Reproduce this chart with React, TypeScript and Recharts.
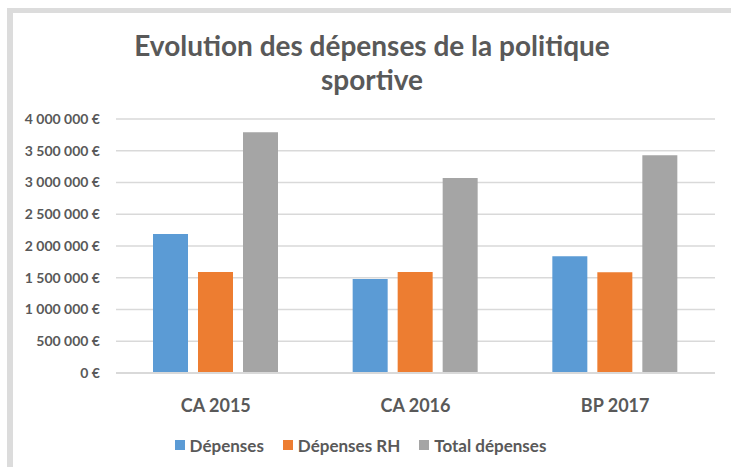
import { BarChart, Bar, XAxis, YAxis, CartesianGrid, Legend } from 'recharts';

const categories = ['CA 2015', 'CA 2016', 'BP 2017'];
const depenses = [2190000, 1480000, 1840000];
const depensesRH = [1590000, 1590000, 1585000];
const totalDepenses = [3790000, 3070000, 3430000];
const yTicks = [0, 500000, 1000000, 1500000, 2000000, 2500000, 3000000, 3500000, 4000000];

const SERIES = [
  { key: 'depenses', name: 'Dépenses', color: '#5B9BD5' },
  { key: 'depensesRH', name: 'Dépenses RH', color: '#ED7D31' },
  { key: 'total', name: 'Total dépenses', color: '#A5A5A5' },
];

const FONT = 'Lato, "Open Sans", sans-serif';
const TEXT = '#595959';

const chartData = categories.map((name, i) => ({
  name,
  depenses: depenses[i],
  depensesRH: depensesRH[i],
  total: totalDepenses[i],
}));

// 4000000 -> "4 000 000 €"
const formatEuro = (v: number) =>
  String(v).replace(/\B(?=(\d{3})+(?!\d))/g, ' ') + ' €';

function LegendBox() {
  return (
    <div
      style={{
        height: 44,
        display: 'flex',
        justifyContent: 'center',
        alignItems: 'center',
        gap: 19,
        fontFamily: FONT,
        fontWeight: 700,
        fontSize: 17,
        color: TEXT,
        paddingLeft: 6,
      }}
    >
      {SERIES.map((s) => (
        <div key={s.key} style={{ display: 'flex', alignItems: 'center' }}>
          <span
            style={{
              width: 10,
              height: 10,
              background: s.color,
              display: 'inline-block',
              marginRight: 5,
            }}
          />
          {s.name}
        </div>
      ))}
    </div>
  );
}

export default function App() {
  return (
    <div
      style={{
        position: 'absolute',
        left: 0,
        top: 0,
        width: 731,
        height: 467,
        background: '#fff',
        overflow: 'hidden',
      }}
    >
      <div
        style={{
          position: 'absolute',
          left: 7,
          top: 8,
          width: 740,
          height: 470,
          borderTop: '5px solid #DCDCDC',
          borderLeft: '6px solid #DCDCDC',
        }}
      />
      <div
        style={{
          position: 'absolute',
          left: 0,
          top: 28,
          width: 744,
          textAlign: 'center',
          fontFamily: FONT,
          fontWeight: 700,
          fontSize: 28,
          lineHeight: '34px',
          color: TEXT,
        }}
      >
        Evolution des dépenses de la politique
        <br />
        sportive
      </div>
      <div style={{ position: 'absolute', left: 0, top: 0 }}>
        <BarChart
          width={731}
          height={467}
          data={chartData}
          margin={{ top: 119, right: 16, bottom: 0, left: 0 }}
          barSize={35}
          barGap={10}
        >
          <CartesianGrid vertical={false} stroke="#D9D9D9" strokeWidth={1.5} />
          <XAxis
            dataKey="name"
            height={50}
            tickLine={false}
            axisLine={{ stroke: '#D9D9D9', strokeWidth: 2 }}
            tickMargin={20}
            tick={{ fill: TEXT, fontFamily: FONT, fontWeight: 700, fontSize: 18 }}
          />
          <YAxis
            width={116}
            domain={[0, 4000000]}
            ticks={yTicks}
            tickFormatter={formatEuro}
            axisLine={false}
            tickLine={false}
            tickSize={0}
            tickMargin={16}
            tick={{ fill: TEXT, fontFamily: FONT, fontWeight: 700, fontSize: 14 }}
          />
          <Legend verticalAlign="bottom" content={() => <LegendBox />} />
          {SERIES.map((s) => (
            <Bar
              key={s.key}
              dataKey={s.key}
              name={s.name}
              fill={s.color}
              isAnimationActive={false}
            />
          ))}
        </BarChart>
      </div>
    </div>
  );
}
